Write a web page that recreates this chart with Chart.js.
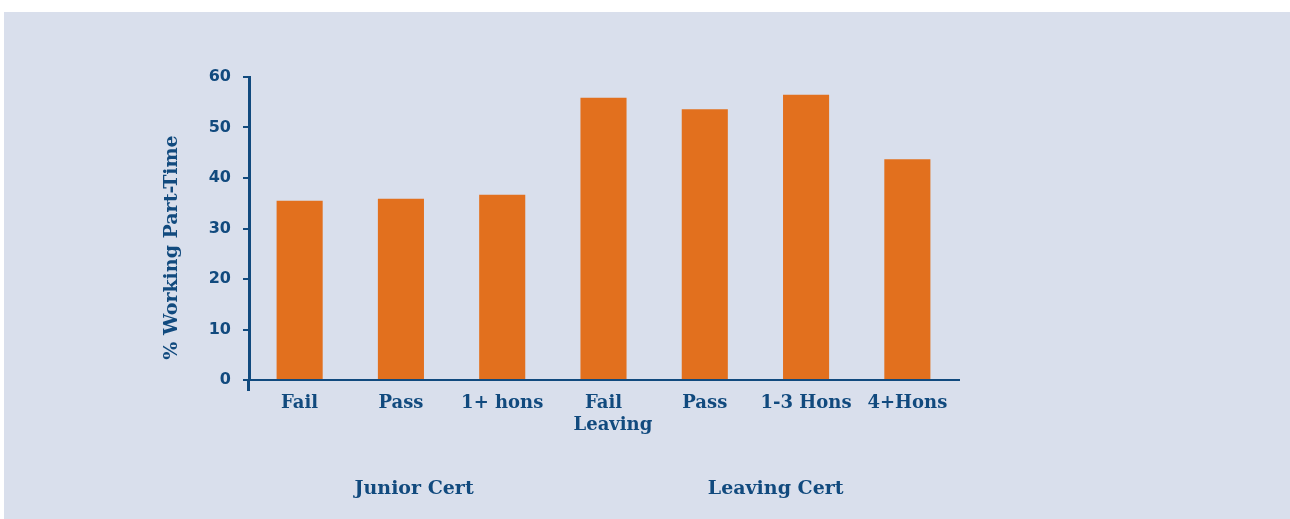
<!DOCTYPE html>
<html>
<head>
<meta charset="utf-8">
<script src="https://cdn.jsdelivr.net/npm/chart.js@4/dist/chart.umd.min.js"></script>
<style>
    html, body { margin: 0; padding: 0; background: #ffffff; }
    #wrap { width: 1290px; height: 519px; position: relative; }
</style>
</head>
<body>
<div id="wrap"><canvas id="chartCanvas"></canvas></div>
<script>
// data
const categories = ['Fail', 'Pass', '1+ hons', ['Fail', '   Leaving'], 'Pass', '1-3 Hons', '4+Hons'];
const workingPartTime = [35.5, 35.9, 36.7, 55.9, 53.6, 56.5, 43.7];
const yTicks = [0, 10, 20, 30, 40, 50, 60];
const yTitle = '% Working Part-Time';
const groupNames = ['Junior Cert', 'Leaving Cert'];
// where each caption sits along the category axis
const groupCenter = [1.13, 4.7];

const navy = '#114a7e';
const orange = '#e2701e';
const panel = '#d9dfec';

// light panel behind everything (leaves a thin white edge top and left)
const panelBg = {
    id: 'panelBg',
    beforeDraw: function(chart) {
        const ctx = chart.ctx;
        ctx.save();
        ctx.fillStyle = '#ffffff';
        ctx.fillRect(0, 0, chart.width, chart.height);
        ctx.fillStyle = panel;
        ctx.fillRect(4, 12, chart.width - 4, chart.height - 12);
        ctx.restore();
    }
};

// group captions under the category labels + rotated y title
const extraText = {
    id: 'extraText',
    afterDraw: function(chart) {
        const x = chart.scales.x;
        const area = chart.chartArea;
        const ctx = chart.ctx;
        ctx.save();
        ctx.font = 'bold 19px "DejaVu Serif"';
        ctx.fillStyle = navy;
        ctx.textAlign = 'center';
        ctx.textBaseline = 'middle';
        for (let i = 0; i < groupNames.length; i++) {
            ctx.fillText(groupNames[i], x.getPixelForValue(groupCenter[i]), area.bottom + 109);
        }
        // y title, a bit below the middle of the axis like the original
        ctx.translate(172, (area.top + area.bottom) / 2 + 19);
        ctx.rotate(-Math.PI / 2);
        ctx.fillText(yTitle, 0, 0);
        ctx.restore();
    }
};

new Chart(document.getElementById('chartCanvas'), {
    type: 'bar',
    data: {
        labels: categories,
        datasets: [{
            data: workingPartTime,
            backgroundColor: orange,
            borderWidth: 0,
            barPercentage: 0.455,
            categoryPercentage: 1
        }]
    },
    options: {
        responsive: true,
        maintainAspectRatio: false,
        animation: false,
        layout: { padding: { top: 77, right: 332, bottom: 0, left: 0 } },
        plugins: {
            legend: { display: false },
            tooltip: { enabled: false }
        },
        scales: {
            x: {
                grid: {
                    drawOnChartArea: false,
                    tickLength: 11,
                    color: (c) => c.index === 0 ? navy : 'rgba(0,0,0,0)',
                    lineWidth: 3
                },
                border: { display: true, color: navy, width: 2 },
                ticks: {
                    color: navy,
                    padding: 1,
                    maxRotation: 0,
                    font: { family: '"DejaVu Serif"', size: 18, weight: 'bold', lineHeight: 1.25 }
                },
                afterFit: function(scale) { scale.height = 139; }
            },
            y: {
                min: 0,
                max: 60,
                afterBuildTicks: function(scale) {
                    scale.ticks = yTicks.map(v => ({ value: v }));
                },
                grid: {
                    drawOnChartArea: false,
                    tickLength: 6,
                    color: navy,
                    lineWidth: 2
                },
                border: { display: true, color: navy, width: 3 },
                ticks: {
                    color: navy,
                    padding: 12,
                    font: { family: '"DejaVu Sans"', size: 16, weight: 'bold' }
                },
                afterFit: function(scale) { scale.width = 249; }
            }
        }
    },
    plugins: [panelBg, extraText]
});
</script>
</body>
</html>
